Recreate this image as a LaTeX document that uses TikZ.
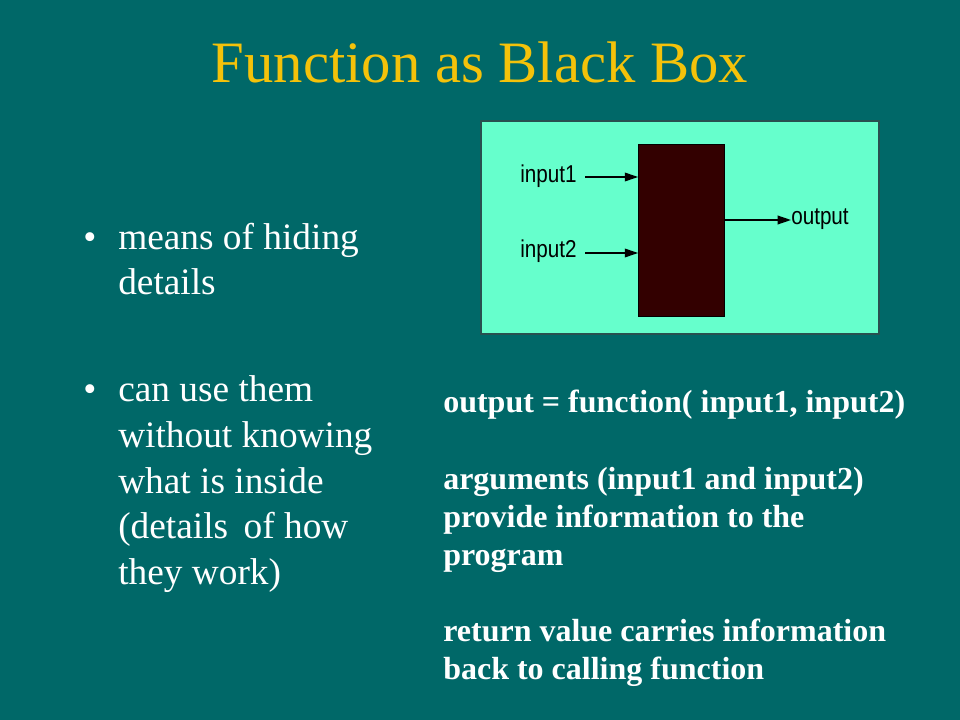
\documentclass[tikz,border=0pt]{standalone}
\usepackage{fontspec}
\setmainfont{Liberation Serif}
\newfontfamily\diagfont{Liberation Sans}
\usetikzlibrary{arrows.meta}
\definecolor{slidebg}{RGB}{0,104,104}
\definecolor{titlegold}{RGB}{244,194,10}
\definecolor{panelgreen}{RGB}{102,255,204}
\definecolor{boxdark}{RGB}{51,0,0}
\definecolor{panelborder}{RGB}{40,80,80}
\tikzset{
  titletext/.style={inner sep=0pt, anchor=base, text=titlegold, font=\fontsize{44}{52}\selectfont},
  bullettext/.style={inner sep=0pt, anchor=base west, text=white, font=\fontsize{28}{34}\selectfont},
  bulletdot/.style={inner sep=0pt, anchor=base, text=white, font=\fontsize{28}{34}\selectfont},
  righttext/.style={inner sep=0pt, anchor=base west, text=white, font=\fontsize{24}{28}\selectfont\bfseries},
  difflabel/.style={inner sep=0pt, text=black, yscale=1.18, transform shape, font=\diagfont\fontsize{15.5}{18}\selectfont},
  flow/.style={draw=black, line width=1.1pt, -{Triangle[length=10pt,width=6.5pt]}},
}
\begin{document}
\begin{tikzpicture}[x=0.75pt,y=-0.75pt]
\fill[slidebg] (0,0) rectangle (960,720);
\useasboundingbox (0,0) rectangle (960,720);

\node[titletext] (title) at (480,83) {Function as Black Box};

% bullets
\node[bulletdot] (b1) at (90,250) {•};
\node[bullettext] (b1l1) at (118,250) {means of hiding};
\node[bullettext] (b1l2) at (118,295) {details};
\node[bulletdot] (b2) at (90,401) {•};
\node[bullettext] (b2l1) at (118,401) {can use them};
\node[bullettext] (b2l2) at (118,447) {without knowing};
\node[bullettext] (b2l3) at (118,493) {what is inside};
\node[bullettext] (b2l4) at (118,538) {(details\, of how};
\node[bullettext] (b2l5) at (118,584) {they work)};

% diagram panel
\node[draw=panelborder, line width=1pt, fill=panelgreen, minimum width=398*0.75pt, minimum height=213*0.75pt, inner sep=0pt] (panel) at (680,227.5) {};
\node[fill=boxdark, draw=black, line width=0.6pt, minimum width=86*0.75pt, minimum height=172*0.75pt, inner sep=0pt] (blackbox) at (681.5,230) {};
\node[difflabel, anchor=west] (in1) at (520,176) {input1};
\node[difflabel, anchor=west] (in2) at (520,251) {input2};
\node[difflabel, anchor=west] (out) at (791,219) {output};
\coordinate (in1s) at (585,177);
\coordinate (in2s) at (585,253);
\draw[flow] (in1s) -- (in1s -| blackbox.west);
\draw[flow] (in2s) -- (in2s -| blackbox.west);
\draw[flow] (blackbox.east |- 0,220) -- (out.west |- 0,220);

% right text
\node[righttext] (r1) at (443,412) {output = function( input1, input2)};
\node[righttext] (r2) at (443,489) {arguments (input1 and input2)};
\node[righttext] (r3) at (443,527) {provide information to the};
\node[righttext] (r4) at (443,565) {program};
\node[righttext] (r5) at (443,641) {return value carries information};
\node[righttext] (r6) at (443,679) {back to calling function};
\end{tikzpicture}
\end{document}
